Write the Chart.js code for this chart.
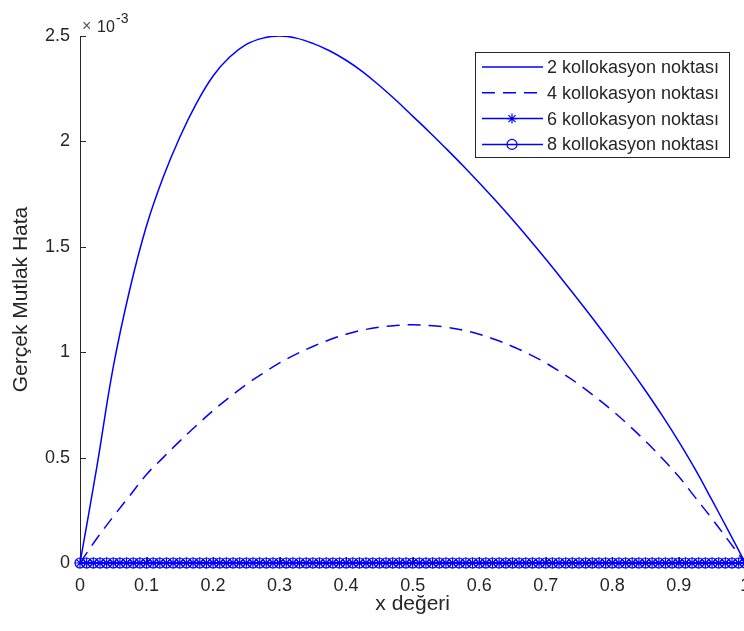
<!DOCTYPE html>
<html><head><meta charset="utf-8">
<script src="https://cdn.jsdelivr.net/npm/chart.js@4/dist/chart.umd.min.js"></script>
<style>html,body{margin:0;padding:0;background:#fff;overflow:hidden}</style>
</head><body><canvas id="c" width="752" height="631"></canvas>
<script>
// values are in units of 10^-3 (as the y axis shows)
const seriesNames = ['2 kollokasyon noktası','4 kollokasyon noktası','6 kollokasyon noktası','8 kollokasyon noktası'];
const xTicks = ['0','0.1','0.2','0.3','0.4','0.5','0.6','0.7','0.8','0.9','1'];
const yTicks = ['0','0.5','1','1.5','2','2.5'];
const yExponent = '-3';

const xCurve = [0,0.025,0.05,0.075,0.1,0.125,0.15,0.175,0.2,0.225,0.25,0.275,0.3,0.325,0.35,0.375,0.4,0.425,0.45,0.475,0.5,0.525,0.55,0.575,0.6,0.625,0.65,0.675,0.7,0.725,0.75,0.775,0.8,0.825,0.85,0.875,0.9,0.925,0.95,0.975,1];
const y2 = [0,0.45,0.93,1.30,1.60,1.83,2.02,2.18,2.31,2.40,2.46,2.49,2.50,2.49,2.465,2.43,2.385,2.33,2.265,2.195,2.12,2.045,1.967,1.887,1.804,1.718,1.629,1.537,1.442,1.344,1.244,1.142,1.037,0.929,0.817,0.700,0.576,0.443,0.298,0.150,0];
const y4 = [0,0.115,0.22,0.32,0.42,0.50,0.578,0.652,0.723,0.787,0.847,0.90,0.949,0.991,1.027,1.059,1.085,1.105,1.119,1.127,1.13,1.127,1.119,1.105,1.085,1.059,1.027,0.991,0.949,0.90,0.847,0.787,0.723,0.653,0.578,0.497,0.41,0.31,0.21,0.105,0];

const xDense = [0,0.01,0.02,0.03,0.04,0.05,0.06,0.07,0.08,0.09,0.1,0.11,0.12,0.13,0.14,0.15,0.16,0.17,0.18,0.19,0.2,0.21,0.22,0.23,0.24,0.25,0.26,0.27,0.28,0.29,0.3,0.31,0.32,0.33,0.34,0.35,0.36,0.37,0.38,0.39,0.4,0.41,0.42,0.43,0.44,0.45,0.46,0.47,0.48,0.49,0.5,0.51,0.52,0.53,0.54,0.55,0.56,0.57,0.58,0.59,0.6,0.61,0.62,0.63,0.64,0.65,0.66,0.67,0.68,0.69,0.7,0.71,0.72,0.73,0.74,0.75,0.76,0.77,0.78,0.79,0.8,0.81,0.82,0.83,0.84,0.85,0.86,0.87,0.88,0.89,0.9,0.91,0.92,0.93,0.94,0.95,0.96,0.97,0.98,0.99,1];
const y6 = [0,0,0,0,0,0,0,0,0,0,0,0,0,0,0,0,0,0,0,0,0,0,0,0,0,0,0,0,0,0,0,0,0,0,0,0,0,0,0,0,0,0,0,0,0,0,0,0,0,0,0,0,0,0,0,0,0,0,0,0,0,0,0,0,0,0,0,0,0,0,0,0,0,0,0,0,0,0,0,0,0,0,0,0,0,0,0,0,0,0,0,0,0,0,0,0,0,0,0,0,0];
const y8 = [0,0,0,0,0,0,0,0,0,0,0,0,0,0,0,0,0,0,0,0,0,0,0,0,0,0,0,0,0,0,0,0,0,0,0,0,0,0,0,0,0,0,0,0,0,0,0,0,0,0,0,0,0,0,0,0,0,0,0,0,0,0,0,0,0,0,0,0,0,0,0,0,0,0,0,0,0,0,0,0,0,0,0,0,0,0,0,0,0,0,0,0,0,0,0,0,0,0,0,0,0];

const FONT = '"Liberation Sans", Arial, Helvetica, sans-serif';
const AX = '#262626';
const BLUE = '#0000ff';
const pts = (xs, ys) => xs.map((x, i) => ({x, y: ys[i]}));
const dashPat = [13, 8];

const overlay = {
  id: 'overlay',
  beforeDatasetsDraw(chart) {
    const {ctx, scales: {x, y}, chartArea: a} = chart;
    ctx.save();
    ctx.strokeStyle = AX; ctx.lineWidth = 1;
    ctx.beginPath();
    x.ticks.forEach(t => { const p = Math.round(x.getPixelForValue(t.value)) + 0.5; ctx.moveTo(p, a.bottom); ctx.lineTo(p, a.bottom - 6); });
    y.ticks.forEach(t => { const p = Math.round(y.getPixelForValue(t.value)) + 0.5; ctx.moveTo(a.left, p); ctx.lineTo(a.left + 6, p); });
    ctx.stroke();
    ctx.restore();
  },
  afterDraw(chart) {
    const {ctx} = chart;
    ctx.save();
    ctx.textBaseline = 'alphabetic'; ctx.textAlign = 'left';
    ctx.font = '16px ' + FONT;
    ctx.fillStyle = '#555';
    ctx.fillText('\u00d7', 82, 31);
    ctx.fillStyle = AX;
    ctx.fillText('10', 97, 32);
    ctx.font = '14px ' + FONT;
    ctx.fillText(yExponent, 116, 23);
    // legend
    const L = 475.5, T = 52.5, W = 254, H = 105;
    ctx.fillStyle = '#fff'; ctx.fillRect(L, T, W, H);
    ctx.strokeStyle = AX; ctx.lineWidth = 1; ctx.strokeRect(L, T, W, H);
    ctx.font = '18px ' + FONT; ctx.textBaseline = 'middle';
    chart.data.datasets.forEach((ds, i) => {
      const yy = 67 + i * 25.8;
      ctx.strokeStyle = BLUE; ctx.lineWidth = 1.5;
      ctx.setLineDash(ds.borderDash && ds.borderDash.length ? dashPat : []);
      ctx.beginPath(); ctx.moveTo(482, yy); ctx.lineTo(543, yy); ctx.stroke();
      ctx.setLineDash([]);
      const cx = 512, r = 5;
      if (ds.pointStyle === 'star') {
        ctx.lineWidth = 1.2;
        ctx.beginPath();
        ctx.moveTo(cx - r, yy); ctx.lineTo(cx + r, yy);
        ctx.moveTo(cx, yy - r); ctx.lineTo(cx, yy + r);
        const d = r * 0.707;
        ctx.moveTo(cx - d, yy - d); ctx.lineTo(cx + d, yy + d);
        ctx.moveTo(cx - d, yy + d); ctx.lineTo(cx + d, yy - d);
        ctx.stroke();
      } else if (ds.pointStyle === 'circle') {
        ctx.lineWidth = 1.2;
        ctx.beginPath(); ctx.arc(cx, yy, r, 0, Math.PI * 2); ctx.stroke();
      }
      ctx.fillStyle = AX;
      ctx.fillText(ds.label, 547, yy + 1);
    });
    ctx.restore();
  }
};

new Chart(document.getElementById('c'), {
  type: 'line',
  data: {
    datasets: [
      {label: seriesNames[0], data: pts(xCurve, y2), borderColor: BLUE, borderWidth: 1.5, pointRadius: 0, pointStyle: false, tension: 0.4, fill: false, order: 4},
      {label: seriesNames[1], data: pts(xCurve, y4), borderColor: BLUE, borderWidth: 1.5, borderDash: dashPat, pointRadius: 0, pointStyle: false, tension: 0.4, fill: false, order: 3},
      {label: seriesNames[2], data: pts(xDense, y6), borderColor: BLUE, borderWidth: 1.5, pointStyle: 'star', pointRadius: 5.5, pointBorderColor: BLUE, pointBorderWidth: 1.2, pointBackgroundColor: BLUE, fill: false, clip: false, order: 2},
      {label: seriesNames[3], data: pts(xDense, y8), borderColor: BLUE, borderWidth: 1.5, pointStyle: 'circle', pointRadius: 5, pointBorderColor: BLUE, pointBorderWidth: 1.2, pointBackgroundColor: 'rgba(0,0,0,0)', fill: false, clip: false, order: 1}
    ]
  },
  options: {
    responsive: false, animation: false,
    layout: {padding: {top: 36, right: 5, left: 0, bottom: 0}},
    plugins: {legend: {display: false}, tooltip: {enabled: false}},
    scales: {
      x: {
        type: 'linear', min: 0, max: 1,
        grid: {display: false, drawTicks: false},
        border: {display: true, color: AX, width: 1},
        ticks: {stepSize: 0.1, autoSkip: false, maxRotation: 0, color: AX, padding: 12, font: {family: FONT, size: 18},
          callback: (v, i) => xTicks[i]},
        title: {display: true, text: 'x değeri', color: AX, font: {family: FONT, size: 21}, padding: {top: 0, bottom: 14}},
        afterFit(s) { s.height = 68; s.paddingLeft = 0; s.paddingRight = 0; }
      },
      y: {
        type: 'linear', min: 0, max: 2.5,
        grid: {display: false, drawTicks: false},
        border: {display: true, color: AX, width: 1},
        ticks: {stepSize: 0.5, color: AX, padding: 10, font: {family: FONT, size: 18},
          callback: (v, i) => yTicks[i]},
        title: {display: true, text: 'Gerçek Mutlak Hata', color: AX, font: {family: FONT, size: 21}, padding: {top: 9, bottom: 0}},
        afterFit(s) { s.width = 80; s.paddingTop = 0; s.paddingBottom = 0; }
      }
    }
  },
  plugins: [overlay]
});
</script></body></html>
